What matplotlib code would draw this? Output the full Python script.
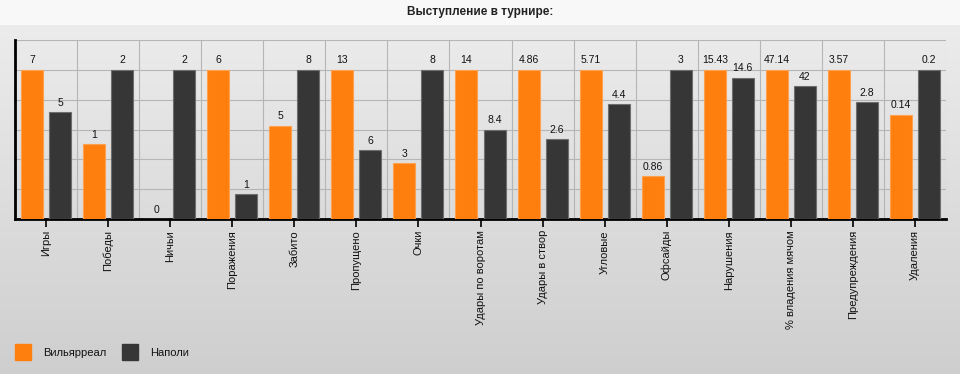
import numpy as np
import matplotlib
matplotlib.use("Agg")
import matplotlib.pyplot as plt
from matplotlib.patches import Rectangle

plt.rcParams['font.family'] = ['Liberation Sans', 'DejaVu Sans']

# ------------------------------------------
# data
# ------------------------------------------
categories = ['Игры', 'Победы', 'Ничьи', 'Поражения', 'Забито', 'Пропущено', 'Очки',
              'Удары по воротам', 'Удары в створ', 'Угловые', 'Офсайды', 'Нарушения',
              '% владения мячом', 'Предупреждения', 'Удаления']
villarreal = [7, 1, 0, 6, 5, 13, 3, 14, 4.86, 5.71, 0.86, 15.43, 47.14, 3.57, 0.14]
napoli = [5, 2, 2, 1, 8, 6, 8, 8.4, 2.6, 4.4, 3, 14.6, 42, 2.8, 0.2]
team_names = ['Вильярреал', 'Наполи']
title = 'Выступление в турнире:'

c_orange = '#ff7f0e'
c_dark = '#363636'

W, H = 960, 374
fig = plt.figure(figsize=(W / 100, H / 100), dpi=100)

# background: light title band + vertical gray gradient
bg = fig.add_axes([0, 0, 1, 1], zorder=-10)
rows = np.zeros((H, 1, 3))
band = 25
rows[:band] = 0.973
grad = np.linspace(0.925, 0.81, H - band)
rows[band:, 0, :] = grad[:, None]
bg.imshow(rows, aspect='auto', extent=[0, 1, 0, 1])
bg.set_axis_off()

fig.text(0.5, 1 - 12 / H, title, ha='center', va='center',
         fontsize=8.5, fontweight='bold', color='#222222')

# ------------------------------------------
# main chart
# ------------------------------------------
left, right, top, bottom = 15, 946, 40, 219
ax = fig.add_axes([left / W, 1 - bottom / H, (right - left) / W, (bottom - top) / H])
ax.patch.set_alpha(0)

n = len(categories)
x = np.arange(n) + 0.5
v = np.array(villarreal, dtype=float)
p = np.array(napoli, dtype=float)
mx = np.maximum(v, p)
hv = v / mx
hp = p / mx

off, bw = 0.226, 0.355
ax.bar(x - off, hv, width=bw, color=c_orange, edgecolor='#ffa24f', linewidth=0.8, zorder=3)
ax.bar(x + off, hp, width=bw, color=c_dark, edgecolor='#6e6e6e', linewidth=0.8, zorder=3)

def fmt(val):
    return ('%g' % val)

for xi, h, val in zip(x - off, hv, v):
    ax.text(xi, h + 0.03, fmt(val), ha='center', va='bottom', fontsize=7.5, color='#111111', zorder=4)
for xi, h, val in zip(x + off, hp, p):
    ax.text(xi, h + 0.03, fmt(val), ha='center', va='bottom', fontsize=7.5, color='#111111', zorder=4)

ax.set_xlim(0, n)
ax.set_ylim(0, 1.2)
ax.set_yticks(np.arange(0, 1.21, 0.2))
ax.set_yticklabels([])
ax.tick_params(axis='y', length=0)
ax.set_xticks(x)
ax.set_xticklabels(categories, rotation=90, fontsize=8, color='#111111')
ax.set_xticks(np.arange(0, n + 1), minor=True)
ax.tick_params(axis='x', which='major', length=6, width=1.2, color='black', pad=2)
ax.tick_params(axis='x', which='minor', length=0)
ax.grid(True, axis='y', color='#b5b5b5', linewidth=0.8, zorder=0)
ax.grid(True, axis='x', which='minor', color='#b5b5b5', linewidth=0.8, zorder=0)
ax.set_axisbelow(True)
for s in ['top', 'right']:
    ax.spines[s].set_visible(False)
ax.spines['left'].set_linewidth(2)
ax.spines['bottom'].set_linewidth(2)

# ------------------------------------------
# legend
# ------------------------------------------
for i, (name, col) in enumerate(zip(team_names, [c_orange, c_dark])):
    x0 = 15 + i * 107
    fig.add_artist(Rectangle((x0 / W, 1 - 360 / H), 16 / W, 16 / H,
                             transform=fig.transFigure, color=col))
    fig.text((x0 + 28) / W, 1 - 353 / H, name, ha='left', va='center',
             fontsize=8, color='#111111')

fig.savefig('out.png', dpi=100)
